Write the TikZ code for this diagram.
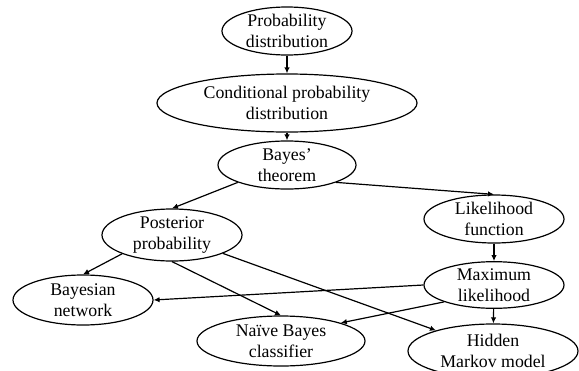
\documentclass[tikz,border=0pt]{standalone}
\usepackage{fontspec}
\setmainfont{Liberation Serif}
\usetikzlibrary{shapes.geometric,arrows.meta}

\begin{document}
\begin{tikzpicture}[x=1pt,y=-1pt,
		concept/.style={ellipse, draw, line width=1.2pt, inner sep=0pt, align=center, font=\fontsize{17.8}{21}\selectfont},
		link/.style={-{Latex[length=6pt,width=5.5pt]}, line width=1.2pt}]
		\useasboundingbox (0,0) rectangle (579,370);

		\draw (287,31) node [concept, minimum width=130, minimum height=48] (prob) {Probability\\distribution};
		\draw (287,103) node [concept, minimum width=260, minimum height=58] (cond) {Conditional probability\\distribution};
		\draw (287,165) node [concept, minimum width=138, minimum height=48] (bayes) {Bayes’\\theorem};
		\draw (172,235) node [concept, minimum width=140, minimum height=52] (post) {Posterior\\probability};
		\draw (494,219) node [concept, minimum width=140, minimum height=48] (like) {Likelihood\\function};
		\draw (494,285) node [concept, minimum width=140, minimum height=46] (maxl) {Maximum\\likelihood};
		\draw (83,300) node [concept, minimum width=140, minimum height=50] (bnet) {Bayesian\\network};
		\draw (281,341) node [concept, minimum width=168, minimum height=50] (naive) {Naïve Bayes\\classifier};
		\draw (493,351) node [concept, minimum width=170, minimum height=54] (hmm) {Hidden\\Markov model};

		\draw
			(prob) edge [link] (cond)
			(cond) edge [link] (bayes)
			(bayes.south west) edge [link] (post.north)
			(bayes.south east) edge [link] (like.north)
			(like) edge [link] (maxl)
			(post.south west) edge [link] (bnet.north)
			(post.south) edge [link] (naive.north)
			(post) edge [link] (hmm)
			(maxl.west) edge [link] (bnet.east)
			(maxl.south west) edge [link] (naive.north east)
			(maxl) edge [link] (hmm)
		;
	\end{tikzpicture}
\end{document}
